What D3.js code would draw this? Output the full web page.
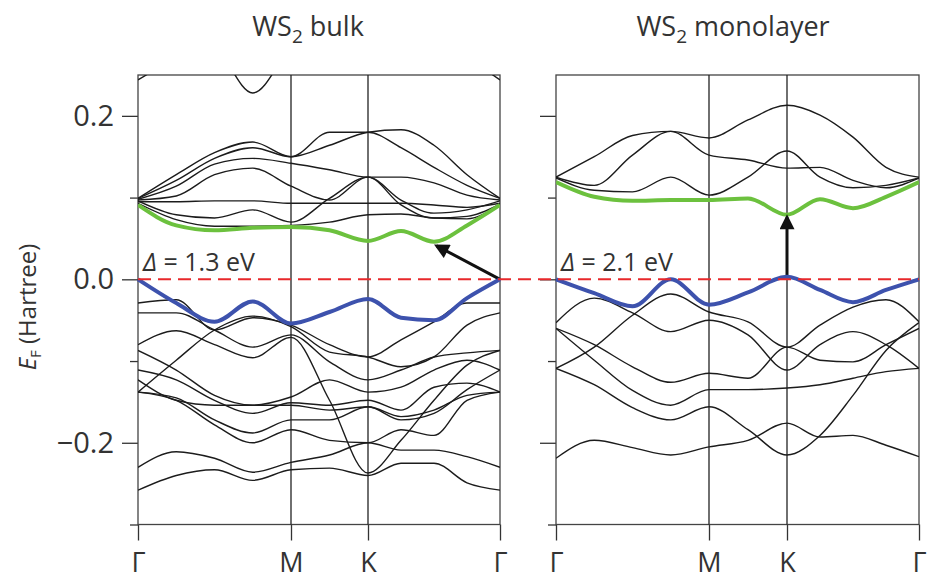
<!DOCTYPE html>
<html>
<head>
<meta charset="utf-8">
<style>
  body { margin: 0; background: #fff; }
  text { font-family: "Open Sans", "Noto Sans", sans-serif; fill: #333; }
  .band { fill: none; stroke: #1c1c1c; stroke-width: 1.4; }
  .frame { fill: none; stroke: #444; stroke-width: 1.3; }
</style>
</head>
<body>
<svg id="chart" width="933" height="585"></svg>
<script src="https://d3js.org/d3.v7.min.js"></script>
<script>
// k-path sample points: Γ (0) - M (1) - K (2) - Γ (3)
var kPath = [0, 0.25, 0.5, 0.75, 1, 1.5, 2, 2.25, 2.5, 2.75, 3];
var kTicks = [0, 1, 2, 3];
var kLabels = ["Γ", "M", "K", "Γ"];
var yMajor = [-0.2, 0, 0.2];
var yMinor = [-0.3, -0.1, 0.1];

// WS2 bulk (Hartree)
var bulkGap = [0.091, 0.066, 0.060, 0.063, 0.064, 0.060, 0.047, 0.059, 0.046, 0.066, 0.091];
var bulkTop = [0, -0.029, -0.052, -0.027, -0.054, -0.040, -0.024, -0.047, -0.050, -0.023, 0];
var bulkCond = [
  [0.099, 0.128, 0.155, 0.168, 0.150, 0.164, 0.180, 0.183, 0.164, 0.128, 0.099],
  [0.099, 0.121, 0.148, 0.161, 0.150, 0.180, 0.180, 0.161, 0.137, 0.115, 0.099],
  [0.098, 0.114, 0.141, 0.148, 0.142, 0.134, 0.125, 0.125, 0.118, 0.103, 0.097],
  [0.097, 0.102, 0.128, 0.136, 0.114, 0.097, 0.125, 0.097, 0.081, 0.085, 0.096],
  [0.095, 0.095, 0.096, 0.096, 0.093, 0.093, 0.093, 0.093, 0.091, 0.088, 0.093],
  [0.096, 0.079, 0.075, 0.085, 0.070, 0.099, 0.125, 0.091, 0.075, 0.077, 0.092],
  [0.093, 0.073, 0.065, 0.065, 0.066, 0.070, 0.079, 0.080, 0.075, 0.074, 0.092],
  [0.32, 0.30, 0.285, 0.228, 0.285, 0.33, 0.35, 0.35, 0.34, 0.32, 0.32],
  [0.244, 0.275, 0.32, 0.35, 0.36, 0.36, 0.36, 0.35, 0.32, 0.275, 0.244]
];
var bulkVal = [
  [-0.029, -0.025, -0.062, -0.047, -0.056, -0.080, -0.095, -0.074, -0.052, -0.029, -0.029],
  [-0.138, -0.099, -0.062, -0.045, -0.058, -0.089, -0.095, -0.107, -0.095, -0.056, -0.041],
  [-0.041, -0.041, -0.062, -0.083, -0.068, -0.101, -0.123, -0.111, -0.095, -0.090, -0.087],
  [-0.080, -0.063, -0.080, -0.096, -0.071, -0.148, -0.237, -0.197, -0.148, -0.105, -0.087],
  [-0.087, -0.111, -0.142, -0.154, -0.144, -0.123, -0.138, -0.132, -0.111, -0.099, -0.111],
  [-0.111, -0.123, -0.148, -0.164, -0.151, -0.154, -0.148, -0.160, -0.132, -0.127, -0.138],
  [-0.123, -0.148, -0.154, -0.154, -0.154, -0.160, -0.156, -0.168, -0.160, -0.142, -0.138],
  [-0.138, -0.145, -0.172, -0.188, -0.172, -0.172, -0.156, -0.172, -0.164, -0.135, -0.111],
  [-0.138, -0.148, -0.178, -0.200, -0.184, -0.197, -0.200, -0.184, -0.191, -0.148, -0.138],
  [-0.230, -0.211, -0.219, -0.236, -0.224, -0.215, -0.200, -0.209, -0.209, -0.217, -0.230],
  [-0.258, -0.240, -0.233, -0.246, -0.233, -0.231, -0.240, -0.225, -0.225, -0.249, -0.258]
];

// WS2 monolayer (Hartree)
var monoGap = [0.119, 0.101, 0.096, 0.097, 0.097, 0.099, 0.079, 0.098, 0.087, 0.101, 0.119];
var monoTop = [0, -0.017, -0.033, 0, -0.031, -0.016, 0.003, -0.013, -0.028, -0.013, 0];
var monoCond = [
  [0.125, 0.150, 0.176, 0.181, 0.173, 0.195, 0.213, 0.201, 0.174, 0.137, 0.125],
  [0.125, 0.115, 0.152, 0.181, 0.152, 0.146, 0.136, 0.137, 0.121, 0.112, 0.124],
  [0.124, 0.109, 0.107, 0.125, 0.103, 0.125, 0.157, 0.125, 0.112, 0.115, 0.124]
];
var monoVal = [
  [-0.053, -0.023, -0.041, -0.064, -0.050, -0.068, -0.111, -0.080, -0.064, -0.080, -0.109],
  [-0.109, -0.083, -0.044, -0.018, -0.040, -0.052, -0.083, -0.056, -0.034, -0.025, -0.052],
  [-0.060, -0.080, -0.107, -0.126, -0.115, -0.121, -0.083, -0.099, -0.101, -0.080, -0.060],
  [-0.060, -0.099, -0.136, -0.154, -0.135, -0.135, -0.133, -0.129, -0.121, -0.113, -0.109],
  [-0.109, -0.129, -0.157, -0.172, -0.156, -0.184, -0.215, -0.191, -0.142, -0.087, -0.053],
  [-0.219, -0.197, -0.206, -0.215, -0.205, -0.197, -0.176, -0.193, -0.191, -0.203, -0.217]
];

// gap arrows [k0, E0, k1, E1]
var bulkArrow = [3, 0, 2.52, 0.041];
var monoArrow = [2, 0.003, 2, 0.076];

var svg = d3.select("#chart");
var y = d3.scaleLinear().domain([-0.3, 0.25]).range([524.5, 75]);

var defs = svg.append("defs");
defs.append("marker").attr("id", "head")
  .attr("viewBox", "0 0 10 10").attr("refX", 8).attr("refY", 5)
  .attr("markerWidth", 6).attr("markerHeight", 5).attr("orient", "auto")
  .attr("markerUnits", "strokeWidth")
  .append("path").attr("d", "M0,0 L10,5 L0,10 z").attr("fill", "#111");

function panel(id, range, cond, val, gap, top, arrow, title, titleX, gapText, labels) {
  var x = d3.scaleLinear().domain(kTicks).range(range);
  var g = svg.append("g");
  var line = d3.line().x(function(d){ return x(d[0]); }).y(function(d){ return y(d[1]); })
    .curve(d3.curveMonotoneX);
  var pts = function(arr){ return arr.map(function(v, i){ return [kPath[i], v]; }); };

  defs.append("clipPath").attr("id", "clip" + id).append("rect")
    .attr("x", range[0]).attr("y", y(0.25)).attr("width", range[3] - range[0]).attr("height", y(-0.3) - y(0.25));

  // left axis ticks
  g.append("g").attr("transform", "translate(" + range[0] + ",0)")
    .call(d3.axisLeft(y).tickValues(yMajor).tickSize(16).tickPadding(8)
      .tickFormat(labels ? d3.format(".1f") : function(){ return ""; }))
    .call(function(a){ a.select(".domain").remove(); a.selectAll("line").attr("stroke", "#333").attr("stroke-width", 1.3);
      a.selectAll("text").attr("font-size", 29).attr("fill", "#333").attr("font-family", "Open Sans"); });
  g.append("g").attr("transform", "translate(" + range[0] + ",0)")
    .call(d3.axisLeft(y).tickValues(yMinor).tickSize(8).tickFormat(""))
    .call(function(a){ a.select(".domain").remove(); a.selectAll("line").attr("stroke", "#333").attr("stroke-width", 1.3); });

  // bottom ticks with k labels
  g.append("g").attr("transform", "translate(0," + y(-0.3) + ")")
    .call(d3.axisBottom(x).tickValues(kTicks).tickSize(16).tickPadding(12)
      .tickFormat(function(d, i){ return kLabels[i]; }))
    .call(function(a){ a.select(".domain").remove(); a.selectAll("line").attr("stroke", "#333").attr("stroke-width", 1.3);
      a.selectAll("text").attr("font-size", 27).attr("fill", "#333")
        .attr("font-family", function(d, i){ return kLabels[i] === "Γ" ? "Liberation Serif" : "Open Sans"; }); });

  // frame and high-symmetry lines
  g.append("rect").attr("class", "frame")
    .attr("x", range[0]).attr("y", y(0.25)).attr("width", range[3] - range[0]).attr("height", y(-0.3) - y(0.25));
  g.selectAll(".sym").data([1, 2]).enter().append("line")
    .attr("x1", function(d){ return x(d); }).attr("x2", function(d){ return x(d); })
    .attr("y1", y(0.25)).attr("y2", y(-0.3))
    .attr("stroke", "#222").attr("stroke-width", 1.3);

  var bands = g.append("g").attr("clip-path", "url(#clip" + id + ")");
  bands.selectAll(".band").data(cond.concat(val)).enter().append("path")
    .attr("class", "band").attr("d", function(d){ return line(pts(d)); });
  bands.append("path").attr("d", line(pts(gap))).attr("fill", "none")
    .attr("stroke", "#6cc13e").attr("stroke-width", 4);
  g.append("path").attr("d", line(pts(top))).attr("fill", "none")
    .attr("stroke", "#3d52ad").attr("stroke-width", 4).attr("class", "topband");

  g.append("line").attr("x1", x(arrow[0])).attr("y1", y(arrow[1]))
    .attr("x2", x(arrow[2])).attr("y2", y(arrow[3]))
    .attr("stroke", "#111").attr("stroke-width", 3).attr("marker-end", "url(#head)");

  g.append("text").attr("x", range[0] + 5).attr("y", 271).attr("font-size", 25)
    .call(function(t){
      t.append("tspan").attr("font-style", "italic").text("Δ");
      t.append("tspan").text(" = " + gapText + " eV");
    });

  var tt = svg.append("text").attr("x", titleX).attr("y", 36)
    .attr("font-size", 27).attr("text-anchor", "middle");
  tt.append("tspan").text("WS");
  tt.append("tspan").attr("font-size", 19).attr("dy", 7).text("2");
  tt.append("tspan").attr("dy", -7).text(" " + title);
  return g;
}

var left = panel("L", [138, 291, 368, 500], bulkCond, bulkVal, bulkGap, bulkTop, bulkArrow, "bulk", 308, "1.3", true);
var right = panel("R", [556, 709, 787, 919], monoCond, monoVal, monoGap, monoTop, monoArrow, "monolayer", 733, "2.1", false);

// Fermi level, dashed across both panels
svg.append("line").attr("x1", 138).attr("x2", 919).attr("y1", y(0)).attr("y2", y(0))
  .attr("stroke", "#e8282b").attr("stroke-width", 2).attr("stroke-dasharray", "13,7");
svg.selectAll(".topband").raise();

// y label
var yl = svg.append("text").attr("transform", "translate(36,307) rotate(-90)")
  .attr("text-anchor", "middle").attr("font-size", 24);
yl.append("tspan").attr("font-style", "italic").text("E");
yl.append("tspan").attr("font-size", 15).attr("dy", 5).text("F");
yl.append("tspan").attr("dy", -5).text(" (Hartree)");
</script>
</body>
</html>
